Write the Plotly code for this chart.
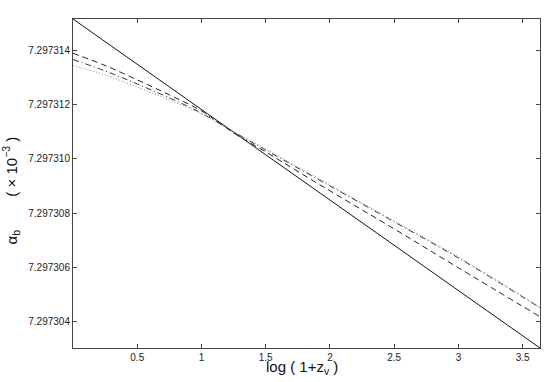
import plotly.graph_objects as go

# x = log(1+z_v)
x_solid = [0.0, 3.635]
alpha_solid = [7.29731514, 7.29730304]

x_curve = [0.0, 0.25, 0.5, 0.75, 1.0, 1.25, 1.5, 2.0, 2.5, 3.0, 3.635]
alpha_dashed = [7.29731388, 7.29731343, 7.29731290, 7.29731235, 7.29731176,
                7.29731095, 7.29731025, 7.29730882, 7.29730742, 7.29730599, 7.29730419]
alpha_dashdot = [7.29731365, 7.29731323, 7.29731275, 7.29731224, 7.29731168,
                 7.29731099, 7.29731032, 7.29730900, 7.29730768, 7.29730635, 7.29730452]
alpha_dotted = [7.29731343, 7.29731308, 7.29731264, 7.29731216, 7.29731165,
                7.29731099, 7.29731036, 7.29730904, 7.29730771, 7.29730639, 7.29730455]

x_ticks = [0.5, 1, 1.5, 2, 2.5, 3, 3.5]
x_ticklabels = ["0.5", "1", "1.5", "2", "2.5", "3", "3.5"]
y_ticks = [7.297304, 7.297306, 7.297308, 7.297310, 7.297312, 7.297314]
y_ticklabels = ["7.297304", "7.297306", "7.297308", "7.297310", "7.297312", "7.297314"]

x_range = [0.0, 3.635]
y_range = [7.29730304, 7.29731514]

FONT = "Liberation Sans, Arial, sans-serif"
AX = "#444444"
NB = "\u00a0"

fig = go.Figure()
fig.add_trace(go.Scatter(x=x_solid, y=alpha_solid, mode="lines",
                         line=dict(color="#111111", width=1), showlegend=False))
fig.add_trace(go.Scatter(x=x_curve, y=alpha_dashed, mode="lines", line_shape="spline",
                         line=dict(color="#222222", width=1, dash="6px,4px"), showlegend=False))
fig.add_trace(go.Scatter(x=x_curve, y=alpha_dashdot, mode="lines", line_shape="spline",
                         line=dict(color="#333333", width=1, dash="6px,3px,1px,3px"), showlegend=False))
fig.add_trace(go.Scatter(x=x_curve, y=alpha_dotted, mode="lines", line_shape="spline",
                         line=dict(color="#888888", width=1, dash="1px,2px"), showlegend=False))

fig.update_layout(
    width=545, height=382,
    margin=dict(l=73, r=5, t=19, b=34, pad=0),
    paper_bgcolor="white", plot_bgcolor="white",
    font=dict(family=FONT, size=10, color="#222222"),
    xaxis=dict(range=x_range, tickvals=x_ticks, ticktext=x_ticklabels,
               ticks="inside", ticklen=4, tickcolor=AX, showgrid=False, zeroline=False,
               showline=True, mirror="ticks", linecolor=AX, linewidth=1),
    yaxis=dict(range=y_range, tickvals=y_ticks, ticktext=y_ticklabels,
               ticks="inside", ticklen=4, tickcolor=AX, showgrid=False, zeroline=False,
               showline=True, mirror="ticks", linecolor=AX, linewidth=1),
    annotations=[
        dict(text="log ( 1+z<sub>v</sub> )", xref="paper", yref="paper",
             x=0.49, y=-0.06, xanchor="center", yanchor="middle", showarrow=False,
             font=dict(family=FONT, size=15, color="#111111")),
        dict(text="α<sub>b</sub>" + NB * 8 + "( × 10<sup>−3</sup> )", xref="paper", yref="paper",
             x=-0.134, y=0.48, xanchor="center", yanchor="middle", textangle=-90,
             showarrow=False, font=dict(family=FONT, size=15, color="#111111")),
    ],
)

fig.write_html("out.html", config={"displayModeBar": False},
               post_script="document.body.style.margin='0';document.body.style.padding='0';")
